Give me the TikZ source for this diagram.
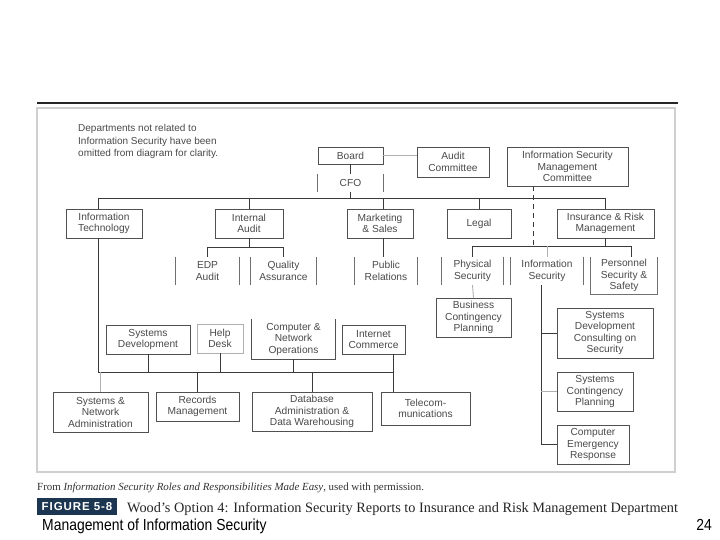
\documentclass[tikz,border=0pt]{standalone}
\usepackage{fontspec}
\setmainfont{Liberation Sans}
\newfontfamily\seriffam{Liberation Serif}
\newfontfamily\narrowfam[FakeStretch=0.87]{Liberation Sans}
\newfontfamily\figfam[LetterSpace=8]{Liberation Sans}
\definecolor{txt}{HTML}{4A4A4A}
\definecolor{boxc}{HTML}{505050}
\definecolor{linec}{HTML}{3A3A3A}
\definecolor{lightc}{HTML}{B0B0B0}
\definecolor{sidec}{HTML}{707070}
\definecolor{framec}{HTML}{CFCFCF}
\definecolor{navy}{HTML}{1C3651}
\begin{document}
\begin{tikzpicture}[x=1pt,y=-1pt,
  lbl/.style={inner sep=0pt, align=center, text=txt, font=\fontsize{10.2}{11.5}\selectfont},
  box/.style={lbl, draw=boxc, line width=0.9pt},
  lightbox/.style={lbl, draw=lightc, line width=0.9pt},
  ln/.style={draw=linec, line width=0.9pt},
  lnl/.style={draw=lightc, line width=0.9pt},
  side/.style={draw=sidec, line width=0.9pt},
  dashline/.style={draw=linec, line width=0.9pt, dash pattern=on 5pt off 4pt}]
\useasboundingbox (0,0) rectangle (720,540);
\fill[white] (0,0) rectangle (720,540);
% top rule and frame
\coordinate (rl) at (37,103);
\coordinate (rr) at (678,103);
\draw[line width=1.6pt, black!85] (rl) -- (rr);
\draw[framec, line width=1.1pt] (37,108) rectangle (675,472);
% note
\node[lbl, anchor=north west, align=left, font=\fontsize{10}{12.5}\selectfont] (note) at (78,124.5)
  {Departments not related to\\Information Security have been\\omitted from diagram for clarity.};
% level 1
\node[box, minimum width=65, minimum height=17] (board) at (350.5,155.5) {Board};
\node[lbl, minimum width=65, minimum height=18] (cfo) at (350.5,183) {CFO};
\node[box, minimum width=72, minimum height=30] (audit) at (453,162) {Audit\\Committee};
\node[box, minimum width=121, minimum height=39] (ismc) at (567.5,166.5) {Information Security\\Management\\Committee};
% level 2
\node[box, minimum width=76, minimum height=29] (it) at (104,223.5) {Information\\Technology};
\node[box, minimum width=68, minimum height=29] (ia) at (249,223.5) {Internal\\Audit};
\node[box, minimum width=66, minimum height=29] (mkt) at (380,223.5) {Marketing\\\& Sales};
\node[box, minimum width=64, minimum height=29] (legal) at (479,223.5) {Legal};
\node[box, minimum width=97, minimum height=29] (ins) at (605.5,223.5) {Insurance \& Risk\\Management};
% level 3
\node[lbl, minimum width=63, minimum height=28] (edp) at (207.5,271) {EDP\\Audit};
\node[lbl, minimum width=65, minimum height=28] (qa) at (283.5,271) {Quality\\Assurance};
\node[lbl, minimum width=62, minimum height=28] (pr) at (386,271) {Public\\Relations};
\node[lbl, minimum width=61, minimum height=28] (phys) at (472.5,271) {Physical\\Security};
\node[lbl, minimum width=72, minimum height=28] (infs) at (547,271) {Information\\Security};
\node[lbl, minimum width=66, minimum height=37] (pers) at (624,275.5) {Personnel\\Security \&\\Safety};
% below security
\node[box, minimum width=75, minimum height=39] (bcp) at (473.5,317.5) {Business\\Contingency\\Planning};
\node[box, minimum width=96, minimum height=50] (sdcs) at (605,333) {Systems\\Development\\Consulting on\\Security};
\node[box, minimum width=76, minimum height=39] (scp) at (595,391.5) {Systems\\Contingency\\Planning};
\node[box, minimum width=72, minimum height=39] (cer) at (593,444.5) {Computer\\Emergency\\Response};
% IT row 1
\node[box, minimum width=84, minimum height=29] (sd) at (148,339.5) {Systems\\Development};
\node[lightbox, minimum width=46, minimum height=29] (hd) at (220,338.5) {Help\\Desk};
\node[lbl, minimum width=83, minimum height=40] (cno) at (293.5,339) {Computer \&\\Network\\Operations};
\node[box, minimum width=63, minimum height=29] (ic) at (373.5,339.5) {Internet\\Commerce};
% IT row 2
\node[box, minimum width=95, minimum height=40] (sna) at (100.5,412) {Systems \&\\Network\\Administration};
\node[box, minimum width=83, minimum height=29] (rec) at (197.5,406.5) {Records\\Management};
\node[box, minimum width=120, minimum height=39] (dba) at (312,411.5) {Database\\Administration \&\\Data Warehousing};
\node[box, minimum width=89, minimum height=33] (tel) at (425.5,408.5) {Telecom-\\munications};
% partial borders
\foreach \n in {cfo,edp,qa,pr,phys,infs}{
  \draw[side] (\n.north west) -- (\n.south west) (\n.north east) -- (\n.south east);
}
\draw[side] (pers.north west) -- (pers.south west) -- (pers.south east) -- (pers.north east);
\draw[box] (cno.north west) -- (cno.south west) -- (cno.south east) -- (cno.north east);
% bus coordinates
\coordinate (b1) at (0,198);
\coordinate (b2) at (0,246);
\coordinate (bia) at (0,247);
\coordinate (b3) at (0,372);
\coordinate (itx) at (98,0);
\coordinate (dsh) at (533,0);
\coordinate (isx) at (541,0);
\coordinate (icx) at (393,0);
\coordinate (psx) at (631,0);
\coordinate (mkx) at (383,0);
% connectors
\draw[ln] (board.south) -- (cfo.north);
\draw[ln] (cfo.south) -- (cfo.south |- b1);
\draw[lnl] (board.east) -- (board.east -| audit.west);
\draw[ln] (itx |- b1) -- (ins.north |- b1);
\draw[ln] (itx |- b1) -- (itx |- it.north);
\draw[ln] (ia.north |- b1) -- (ia.north);
\draw[ln] (mkx |- b1) -- (mkx |- mkt.north);
\draw[ln] (legal.north |- b1) -- (legal.north);
\draw[ln] (ins.north |- b1) -- (ins.north);
\draw[dashline] (dsh |- ismc.south) -- (dsh |- b2);
% internal audit
\draw[ln] (ia.south) -- (ia.south |- bia);
\draw[ln] (edp.north |- bia) -- (qa.north |- bia);
\draw[ln] (edp.north |- bia) -- (edp.north);
\draw[ln] (qa.north |- bia) -- (qa.north);
% marketing
\draw[ln] (mkx |- mkt.south) -- (mkx |- pr.north);
% insurance
\draw[ln] (ins.south) -- (ins.south |- b2);
\draw[ln] (phys.north |- b2) -- (psx |- b2);
\draw[ln] (phys.north |- b2) -- (phys.north);
\draw[lnl] (infs.north |- b2) -- (infs.north);
\draw[ln] (psx |- b2) -- (psx |- pers.north);
\draw[lnl] (phys.south) -- (bcp.north);
\draw[ln] (isx |- infs.south) |- (cer.west);
\draw[ln] (isx |- sdcs.west) -- (sdcs.west);
\draw[lnl] (isx |- scp.west) -- (scp.west);
% information technology
\draw[ln] (itx |- it.south) -- (itx |- b3);
\draw[ln] (itx |- b3) -- (icx |- b3);
\draw[ln] (sd.south) -- (sd.south |- b3);
\draw[ln] (hd.south) -- (hd.south |- b3);
\draw[ln] (cno.south) -- (cno.south |- b3);
\draw[ln] (icx |- ic.south) -- (icx |- tel.north);
\draw[lnl] (sna.north |- b3) -- (sna.north);
\draw[ln] (rec.north |- b3) -- (rec.north);
\draw[ln] (dba.north |- b3) -- (dba.north);
% captions
\node[anchor=base west, inner sep=0pt, font=\seriffam\fontsize{10.9}{12}\selectfont, text=black!80] (src) at (37,490)
  {From \textit{Information Security Roles and Responsibilities Made Easy}, used with permission.};
\node[fill=navy, text=white, inner sep=0pt, minimum width=80, minimum height=17, font=\figfam\bfseries\fontsize{11.5}{13}\selectfont] (fig) at (77,506.5) {FIGURE 5-8};
\node[anchor=base west, inner sep=0pt, font=\seriffam\fontsize{14.3}{16}\selectfont, text=black!85] (title) at (127,512)
  {Wood’s Option 4: Information Security Reports to Insurance and Risk Management Department};
\node[anchor=base west, inner sep=0pt, font=\narrowfam\fontsize{16}{18}\selectfont] (foot) at (42,530) {Management of Information Security};
\node[anchor=base east, inner sep=0pt, font=\narrowfam\fontsize{16}{18}\selectfont] (page) at (712,530) {24};
\end{tikzpicture}
\end{document}
